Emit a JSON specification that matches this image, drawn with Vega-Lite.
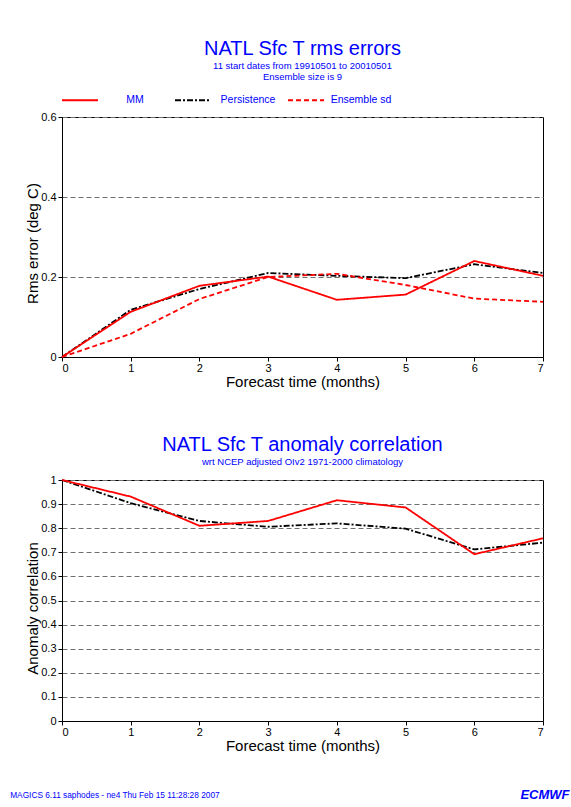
{
  "$schema": "https://vega.github.io/schema/vega-lite/v6.json",
  "background": "white",
  "padding": {"left": 10, "top": 38, "right": 0, "bottom": 0},
  "bounds": "flush",
  "spacing": 123,
  "title": {
    "text": "MAGICS 6.11 saphodes - ne4 Thu Feb 15 11:28:28 2007",
    "orient": "bottom",
    "anchor": "start",
    "frame": "bounds",
    "fontSize": 8.3,
    "fontWeight": "normal",
    "color": "#0000ff",
    "offset": -11,
    "dx": -15
  },
  "datasets": {
    "rms": [
      {"month": 0, "series": "Persistence", "value": 0.0},
      {"month": 1, "series": "Persistence", "value": 0.118},
      {"month": 2, "series": "Persistence", "value": 0.170},
      {"month": 3, "series": "Persistence", "value": 0.210},
      {"month": 4, "series": "Persistence", "value": 0.203},
      {"month": 5, "series": "Persistence", "value": 0.197},
      {"month": 6, "series": "Persistence", "value": 0.232},
      {"month": 7, "series": "Persistence", "value": 0.210},
      {"month": 0, "series": "Ensemble sd", "value": 0.0},
      {"month": 1, "series": "Ensemble sd", "value": 0.058},
      {"month": 2, "series": "Ensemble sd", "value": 0.145},
      {"month": 3, "series": "Ensemble sd", "value": 0.200},
      {"month": 4, "series": "Ensemble sd", "value": 0.208},
      {"month": 5, "series": "Ensemble sd", "value": 0.180},
      {"month": 6, "series": "Ensemble sd", "value": 0.146},
      {"month": 7, "series": "Ensemble sd", "value": 0.138},
      {"month": 0, "series": "MM", "value": 0.0},
      {"month": 1, "series": "MM", "value": 0.113},
      {"month": 2, "series": "MM", "value": 0.178},
      {"month": 3, "series": "MM", "value": 0.201},
      {"month": 4, "series": "MM", "value": 0.143},
      {"month": 5, "series": "MM", "value": 0.156},
      {"month": 6, "series": "MM", "value": 0.240},
      {"month": 7, "series": "MM", "value": 0.203}
    ],
    "acc": [
      {"month": 0, "series": "Persistence", "value": 1.0},
      {"month": 1, "series": "Persistence", "value": 0.904},
      {"month": 2, "series": "Persistence", "value": 0.830},
      {"month": 3, "series": "Persistence", "value": 0.806},
      {"month": 4, "series": "Persistence", "value": 0.820},
      {"month": 5, "series": "Persistence", "value": 0.798},
      {"month": 6, "series": "Persistence", "value": 0.712},
      {"month": 7, "series": "Persistence", "value": 0.740},
      {"month": 0, "series": "MM", "value": 1.0},
      {"month": 1, "series": "MM", "value": 0.931},
      {"month": 2, "series": "MM", "value": 0.810},
      {"month": 3, "series": "MM", "value": 0.830},
      {"month": 4, "series": "MM", "value": 0.916},
      {"month": 5, "series": "MM", "value": 0.886},
      {"month": 6, "series": "MM", "value": 0.692},
      {"month": 7, "series": "MM", "value": 0.758}
    ]
  },
  "vconcat": [
    {
      "width": 481,
      "height": 240,
      "title": {
        "text": "NATL Sfc T rms errors",
        "subtitle": ["11 start dates from 19910501 to 20010501", "Ensemble size is  9"],
        "offset": 30
      },
      "data": {"name": "rms"},
      "mark": {"type": "line", "strokeWidth": 1.8},
      "encoding": {
        "x": {
          "field": "month", "type": "quantitative",
          "scale": {"domain": [0, 7], "nice": false},
          "axis": {"title": "Forecast time (months)", "values": [0, 1, 2, 3, 4, 5, 6, 7], "format": "d"}
        },
        "y": {
          "field": "value", "type": "quantitative",
          "scale": {"domain": [0, 0.6], "nice": false},
          "axis": {"title": "Rms error (deg C)", "values": [0, 0.2, 0.4, 0.6], "format": "~g", "titleY": 126}
        },
        "color": {
          "field": "series", "type": "nominal",
          "scale": {"domain": ["MM", "Persistence", "Ensemble sd"], "range": ["#ff0000", "#000000", "#ff0000"]},
          "legend": {"title": null, "orient": "none", "legendX": -1, "legendY": -36, "direction": "horizontal"}
        },
        "strokeDash": {
          "field": "series", "type": "nominal",
          "scale": {"domain": ["MM", "Persistence", "Ensemble sd"], "range": [[1, 0], [6, 2, 2, 2], [5, 3]]},
          "legend": {"title": null, "orient": "none", "legendX": -1, "legendY": -36, "direction": "horizontal"}
        }
      }
    },
    {
      "width": 481,
      "height": 241,
      "title": {
        "text": "NATL Sfc T anomaly correlation",
        "subtitle": "wrt NCEP adjusted OIv2 1971-2000 climatology"
      },
      "data": {"name": "acc"},
      "resolve": {"axis": {"x": "independent"}},
      "layer": [
        {
          "transform": [{"filter": "datum.series === 'Persistence'"}],
          "mark": {"type": "line", "strokeWidth": 1.8},
          "encoding": {
            "x": {
              "field": "month", "type": "quantitative",
              "scale": {"domain": [0, 7], "nice": false},
              "axis": {"title": "Forecast time (months)", "values": [0, 1, 2, 3, 4, 5, 6, 7], "format": "d"}
            },
            "y": {
              "field": "value", "type": "quantitative",
              "scale": {"domain": [0, 1], "nice": false},
              "axis": {"title": "Anomaly correlation", "values": [0, 0.1, 0.2, 0.3, 0.4, 0.5, 0.6, 0.7, 0.8, 0.9, 1], "format": "~g", "titleY": 128}
            },
            "color": {
              "field": "series", "type": "nominal",
              "scale": {"domain": ["MM", "Persistence", "Ensemble sd"], "range": ["#ff0000", "#000000", "#ff0000"]},
              "legend": null
            },
            "strokeDash": {
              "field": "series", "type": "nominal",
              "scale": {"domain": ["MM", "Persistence", "Ensemble sd"], "range": [[1, 0], [6, 2, 2, 2], [5, 3]]},
              "legend": null
            }
          }
        },
        {
          "transform": [{"filter": "datum.series === 'MM'"}],
          "mark": {"type": "line", "strokeWidth": 1.8},
          "encoding": {
            "x": {
              "field": "month", "type": "quantitative",
              "scale": {"domain": [0, 7], "nice": false},
              "axis": {
                "orient": "bottom", "labels": false, "ticks": false, "domain": false, "grid": false,
                "title": "ECMWF", "titleX": 507, "titleY": 77, "titleAlign": "right", "titleBaseline": "alphabetic",
                "titleAngle": 0, "titleFontSize": 13, "titleFontWeight": "bold", "titleFontStyle": "italic", "titleColor": "#0000ff"
              }
            },
            "y": {
              "field": "value", "type": "quantitative",
              "scale": {"domain": [0, 1], "nice": false},
              "axis": {"title": "Anomaly correlation", "values": [0, 0.1, 0.2, 0.3, 0.4, 0.5, 0.6, 0.7, 0.8, 0.9, 1], "format": "~g", "titleY": 128}
            },
            "color": {"field": "series", "type": "nominal", "legend": null},
            "strokeDash": {"field": "series", "type": "nominal", "legend": null}
          }
        }
      ]
    }
  ],
  "config": {
    "font": "Liberation Sans",
    "view": {"stroke": "#000000", "strokeWidth": 1},
    "axis": {
      "labelFont": "Liberation Sans", "labelFontSize": 11, "labelColor": "#000000",
      "tickColor": "#000000", "tickSize": 4, "domainColor": "#000000",
      "titleFont": "Liberation Sans", "titleFontSize": 15, "titleFontWeight": "normal", "titleColor": "#000000",
      "gridColor": "#707070", "gridDash": [5, 3], "gridWidth": 1, "labelOverlap": false
    },
    "axisX": {"grid": false, "labelPadding": 1, "titlePadding": 1},
    "axisY": {"grid": true, "labelPadding": 2, "titlePadding": 0},
    "title": {
      "font": "Liberation Sans", "fontSize": 20, "fontWeight": "normal", "color": "#0000ff",
      "subtitleFont": "Liberation Sans", "subtitleFontSize": 9.5, "subtitleColor": "#0000ff",
      "subtitlePadding": 2, "subtitleLineHeight": 10.5, "anchor": "middle", "offset": 8
    },
    "legend": {
      "symbolType": "stroke", "symbolSize": 1296,
      "symbolStrokeWidth": 2, "labelFont": "Liberation Sans", "labelFontSize": 10.5, "labelColor": "#0000ff",
      "labelAlign": "center", "labelOffset": 36, "gridAlign": "all", "columnPadding": 5, "padding": 0
    }
  }
}
